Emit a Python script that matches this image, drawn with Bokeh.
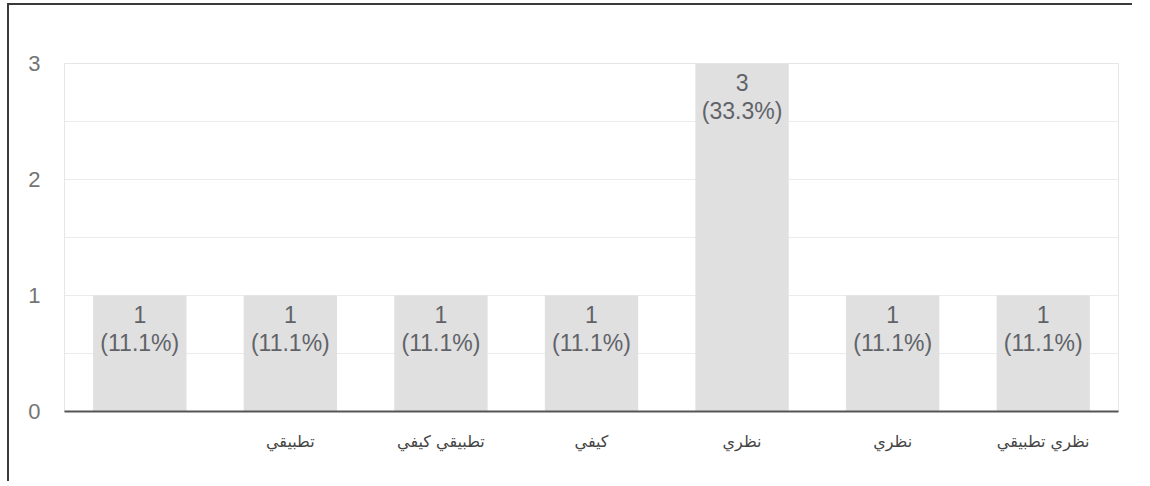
from bokeh.plotting import figure
from bokeh.models import FixedTicker, Range1d, ColumnDataSource
from bokeh.core.properties import value
from bokeh.embed import file_html
from bokeh.resources import INLINE

# ---- data ----
categories = ["", "تطبيقي", "تطبيقي كيفي", "كيفي", "نظري", "نظري", "نظري تطبيقي"]
counts = [1, 1, 1, 1, 3, 1, 1]
percents = [11.1, 11.1, 11.1, 11.1, 33.3, 11.1, 11.1]
y_ticks = [0, 1, 2, 3]
y_minor = [0.5, 1.5, 2.5]

xs = list(range(len(categories)))
src = ColumnDataSource(dict(
    x=xs,
    top=counts,
    ctext=[str(c) for c in counts],
    ptext=["({:.1f}%)".format(v) for v in percents],
))

p = figure(width=1125, height=478, output_backend="svg", toolbar_location=None,
           x_range=Range1d(-0.5, len(categories) - 0.5), y_range=Range1d(0, 3),
           min_border_left=55, min_border_right=16, min_border_top=58,
           min_border_bottom=72, background_fill_color="white",
           border_fill_color="white")
p.styles = {"border-left": "2px solid #3a3a3a", "border-top": "2px solid #3a3a3a",
            "margin-left": "7px", "margin-top": "3px"}

p.vbar(x="x", top="top", width=0.62, source=src, fill_color="#e0e0e0",
       line_color=None)

p.text(x="x", y="top", text="ctext", source=src, text_align="center",
       text_baseline="middle", y_offset=19, text_font=value("Liberation Sans"),
       text_font_size="23px", text_color="#5f6368")
p.text(x="x", y="top", text="ptext", source=src, text_align="center",
       text_baseline="middle", y_offset=47, text_font=value("Liberation Sans"),
       text_font_size="23px", text_color="#5f6368")

# grid
p.xgrid.grid_line_color = None
p.ygrid.ticker = FixedTicker(ticks=y_ticks, minor_ticks=y_minor)
p.ygrid.grid_line_color = "#ebebeb"
p.ygrid.minor_grid_line_color = "#ebebeb"
p.outline_line_color = "#e6e6e6"

# y axis
p.yaxis.ticker = FixedTicker(ticks=y_ticks)
p.yaxis.axis_line_color = None
p.yaxis.major_tick_line_color = None
p.yaxis.minor_tick_line_color = None
p.yaxis.major_tick_out = 0
p.yaxis.major_tick_in = 0
p.yaxis.minor_tick_out = 0
p.yaxis.major_label_standoff = 24
p.yaxis.major_label_text_font = "Liberation Sans"
p.yaxis.major_label_text_font_size = "22px"
p.yaxis.major_label_text_color = "#757575"

# x axis
p.xaxis.ticker = FixedTicker(ticks=xs)
p.xaxis.major_label_overrides = {i: c for i, c in zip(xs, categories)}
p.xaxis.axis_line_color = "#555555"
p.xaxis.axis_line_width = 2
p.xaxis.major_tick_line_color = None
p.xaxis.minor_tick_line_color = None
p.xaxis.major_tick_out = 0
p.xaxis.major_tick_in = 0
p.xaxis.major_label_standoff = 20
p.xaxis.major_label_text_font = "DejaVu Sans"
p.xaxis.major_label_text_font_size = "16px"
p.xaxis.major_label_text_color = "#444444"

open("out.html", "w").write(file_html(p, INLINE))
